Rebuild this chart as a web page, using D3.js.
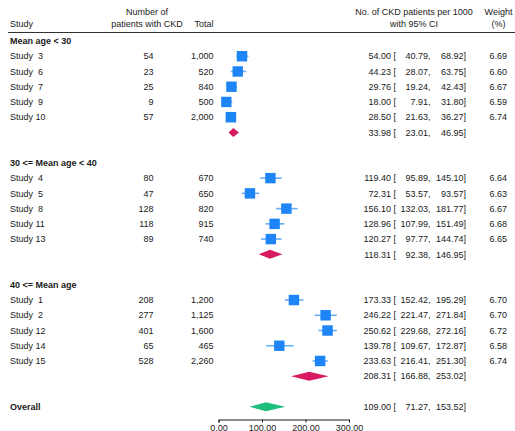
<!DOCTYPE html>
<html>
<head>
<meta charset="utf-8">
<script src="https://cdn.jsdelivr.net/npm/d3@7"></script>
<style>
  body { margin: 0; background: #fff; }
  svg text { font-family: "Liberation Sans", Arial, sans-serif; font-size: 9px; fill: #1a1a1a; white-space: pre; }
  .bold { font-weight: bold; }
</style>
</head>
<body>
<div id="chart"></div>
<script>
// data
const groupLabels = ["Mean age < 30", "30 <= Mean age < 40", "40 <= Mean age"];
const studyNames = ["Study  3", "Study  6", "Study  7", "Study  9", "Study 10",
                    "Study  4", "Study  5", "Study  8", "Study 11", "Study 13",
                    "Study  1", "Study  2", "Study 12", "Study 14", "Study 15"];
const studyGroup = [0, 0, 0, 0, 0, 1, 1, 1, 1, 1, 2, 2, 2, 2, 2];
const ckdCounts = [54, 23, 25, 9, 57, 80, 47, 128, 118, 89, 208, 277, 401, 65, 528];
const totals = [1000, 520, 840, 500, 2000, 670, 650, 820, 915, 740, 1200, 1125, 1600, 465, 2260];
const estimates = [54.00, 44.23, 29.76, 18.00, 28.50, 119.40, 72.31, 156.10, 128.96, 120.27, 173.33, 246.22, 250.62, 139.78, 233.63];
const lowers = [40.79, 28.07, 19.24, 7.91, 21.63, 95.89, 53.57, 132.03, 107.99, 97.77, 152.42, 221.47, 229.68, 109.67, 216.41];
const uppers = [68.92, 63.75, 42.43, 31.80, 36.27, 145.10, 93.57, 181.77, 151.49, 144.74, 195.29, 271.84, 272.16, 172.87, 251.30];
const weights = [6.69, 6.60, 6.67, 6.59, 6.74, 6.64, 6.63, 6.67, 6.68, 6.65, 6.70, 6.70, 6.72, 6.58, 6.74];
const groupEst = [33.98, 118.31, 208.31];
const groupLow = [23.01, 92.38, 166.88];
const groupHigh = [46.95, 146.95, 253.02];
const overallLabel = "Overall";
const overallEst = 109.00, overallLow = 71.27, overallHigh = 153.52;
const axisTicks = [0, 100, 200, 300];

const width = 515, height = 431;
const svg = d3.select("#chart").append("svg")
  .attr("width", width).attr("height", height);

// x scale for the plot column
const x = d3.scaleLinear().domain([0, 300]).range([218.5, 349]);
// row scale: one unit per table row
const y = d3.scaleLinear().domain([0, 24]).range([41, 406.7]);
const sq = d3.scaleSqrt().domain([0, 6.74]).range([0, 10.5]);

const fmt = d3.format(".2f");
const fmtN = d3.format(",");

// column positions
const colStudy = 10, colCkd = 153.5, colTotal = 213.5;
const colEst = 391, colBr = 393.5, colLow = 430.5, colHigh = 466, colW = 507;

// header
const hdr = svg.append("g");
hdr.append("text").attr("x", colStudy).attr("y", 27).text("Study");
hdr.append("text").attr("x", 147).attr("y", 15).attr("text-anchor", "middle").text("Number of");
hdr.append("text").attr("x", 147).attr("y", 27).attr("text-anchor", "middle").text("patients with CKD");
hdr.append("text").attr("x", colTotal).attr("y", 27).attr("text-anchor", "end").text("Total");
hdr.append("text").attr("x", 414).attr("y", 15).attr("text-anchor", "middle").text("No. of CKD patients per 1000");
hdr.append("text").attr("x", 414).attr("y", 27).attr("text-anchor", "middle").text("with 95% CI");
hdr.append("text").attr("x", 498.5).attr("y", 15).attr("text-anchor", "middle").text("Weight");
hdr.append("text").attr("x", 498.5).attr("y", 27).attr("text-anchor", "middle").text("(%)");
svg.append("line").attr("x1", 8).attr("x2", width).attr("y1", 32.5).attr("y2", 32.5)
  .attr("stroke", "#333").attr("stroke-width", 1.2);

function ciText(g, row, est, lo, hi) {
  const yy = y(row) + 3.2;
  g.append("text").attr("x", colEst).attr("y", yy).attr("text-anchor", "end").text(fmt(est));
  g.append("text").attr("x", colBr).attr("y", yy).text("[");
  g.append("text").attr("x", colLow).attr("y", yy).attr("text-anchor", "end").text(fmt(lo) + ",");
  g.append("text").attr("x", colHigh).attr("y", yy).attr("text-anchor", "end").text(fmt(hi) + "]");
}

function diamond(row, est, lo, hi, color) {
  const cy = y(row), h = 4.5;
  svg.append("path")
    .attr("d", `M${x(lo)},${cy}L${x(est)},${cy - h}L${x(hi)},${cy}L${x(est)},${cy + h}Z`)
    .attr("fill", color);
}

const g = svg.append("g");
let row = 0;
groupLabels.forEach((label, gi) => {
  g.append("text").attr("class", "bold").attr("x", colStudy).attr("y", y(row) + 3.2).text(label);
  row++;
  studyNames.forEach((name, i) => {
    if (studyGroup[i] !== gi) return;
    const yy = y(row);
    g.append("text").attr("x", colStudy).attr("y", yy + 3.2).text(name);
    g.append("text").attr("x", colCkd).attr("y", yy + 3.2).attr("text-anchor", "end").text(ckdCounts[i]);
    g.append("text").attr("x", colTotal).attr("y", yy + 3.2).attr("text-anchor", "end").text(fmtN(totals[i]));
    ciText(g, row, estimates[i], lowers[i], uppers[i]);
    g.append("text").attr("x", colW).attr("y", yy + 3.2).attr("text-anchor", "end").text(fmt(weights[i]));
    // CI line and square
    svg.append("line").attr("x1", x(lowers[i])).attr("x2", x(uppers[i]))
      .attr("y1", yy).attr("y2", yy).attr("stroke", "#6aaef5").attr("stroke-width", 1.6);
    const s = sq(weights[i]);
    svg.append("rect").attr("x", x(estimates[i]) - s / 2).attr("y", yy - s / 2)
      .attr("width", s).attr("height", s).attr("fill", "#1e85f7");
    row++;
  });
  diamond(row, groupEst[gi], groupLow[gi], groupHigh[gi], "#d81b60");
  ciText(g, row, groupEst[gi], groupLow[gi], groupHigh[gi]);
  row += 2;
});

// overall
g.append("text").attr("class", "bold").attr("x", colStudy).attr("y", y(row) + 3.2).text(overallLabel);
diamond(row, overallEst, overallLow, overallHigh, "#1dbf7d");
ciText(g, row, overallEst, overallLow, overallHigh);

// axis
const axis = svg.append("g").attr("transform", "translate(0,419.5)")
  .call(d3.axisBottom(x).tickValues(axisTicks).tickFormat(fmt).tickSize(3).tickPadding(2));
axis.select(".domain").attr("stroke", "#1a1a1a");
axis.selectAll(".tick line").attr("stroke", "#1a1a1a");
axis.selectAll(".tick text").style("font-family", '"Liberation Sans", Arial, sans-serif')
  .style("font-size", "9px").attr("fill", "#1a1a1a");
</script>
</body>
</html>
